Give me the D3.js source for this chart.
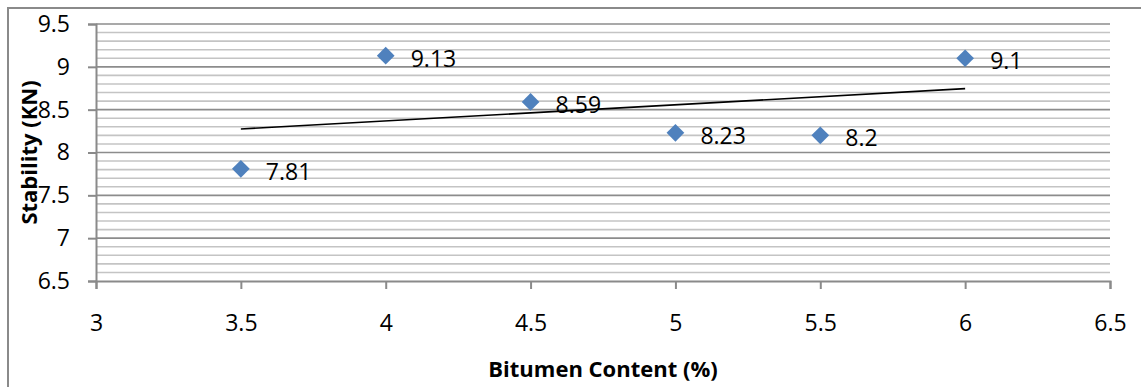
<!DOCTYPE html>
<html>
<head>
<meta charset="utf-8">
<script src="https://cdn.jsdelivr.net/npm/d3@7"></script>
<style>
  html, body { margin: 0; padding: 0; background: #fff; }
  svg { display: block; }
  text { font-family: "Open Sans", "Liberation Sans", sans-serif; fill: #000; }
</style>
</head>
<body>
<svg id="chart" width="1141" height="387"></svg>
<script>
// Marshall test results: stability against bitumen content
const bitumenContent = [3.5, 4, 4.5, 5, 5.5, 6];
const stability = [7.81, 9.13, 8.59, 8.23, 8.2, 9.1];
const xTicks = [3, 3.5, 4, 4.5, 5, 5.5, 6, 6.5];
const yTicks = [6.5, 7, 7.5, 8, 8.5, 9, 9.5];
const xTitle = "Bitumen Content (%)";
const yTitle = "Stability (KN)";

const svg = d3.select("#chart");
const plot = { left: 96, right: 1110, top: 24, bottom: 281 };
const labelSize = 23;

const x = d3.scaleLinear().domain([3, 6.5]).range([plot.left, plot.right]);
const y = d3.scaleLinear().domain([6.5, 9.5]).range([plot.bottom, plot.top]);

// chart area frame
svg.append("rect")
  .attr("x", 8).attr("y", 8)
  .attr("width", 1200).attr("height", 500)
  .attr("fill", "none").attr("stroke", "#8a8a8a").attr("stroke-width", 2);

// minor horizontal gridlines every 0.1
const minor = d3.range(65, 96).map(v => v / 10).filter(v => Math.round(v * 10) % 5 !== 0);
svg.append("g").selectAll("line").data(minor).join("line")
  .attr("x1", plot.left).attr("x2", plot.right)
  .attr("y1", d => y(d)).attr("y2", d => y(d))
  .attr("stroke", "#c4c4c4").attr("stroke-width", 1.6);

// major horizontal gridlines
svg.append("g").selectAll("line").data(yTicks.filter(v => v !== 6.5)).join("line")
  .attr("x1", plot.left).attr("x2", plot.right)
  .attr("y1", d => y(d)).attr("y2", d => y(d))
  .attr("stroke", "#8c8c8c").attr("stroke-width", 1.6);

// axes
const yAxis = svg.append("g")
  .attr("transform", `translate(${plot.left},0)`)
  .call(d3.axisLeft(y).tickValues(yTicks).tickSize(8).tickPadding(18).tickFormat(d3.format("")));
const xAxis = svg.append("g")
  .attr("transform", `translate(0,${plot.bottom})`)
  .call(d3.axisBottom(x).tickValues(xTicks).tickSize(8).tickPadding(26).tickFormat(d3.format("")));

[yAxis, xAxis].forEach(a => {
  a.select(".domain").attr("stroke", "#8a8a8a").attr("stroke-width", 2);
  a.selectAll(".tick line").attr("stroke", "#8a8a8a").attr("stroke-width", 2);
  a.selectAll(".tick text").attr("font-size", labelSize).attr("font-family", "\"Open Sans\", sans-serif").attr("fill", "#000");
});

// linear trendline (least squares)
const mx = d3.mean(bitumenContent), my = d3.mean(stability);
const slope = d3.sum(bitumenContent, (v, i) => (v - mx) * (stability[i] - my)) /
              d3.sum(bitumenContent, v => (v - mx) ** 2);
const intercept = my - slope * mx;
const xMin = d3.min(bitumenContent), xMax = d3.max(bitumenContent);
svg.append("line")
  .attr("x1", x(xMin)).attr("y1", y(intercept + slope * xMin))
  .attr("x2", x(xMax)).attr("y2", y(intercept + slope * xMax))
  .attr("stroke", "#000").attr("stroke-width", 1.6);

// data points
const pts = bitumenContent.map((v, i) => ({ x: v, y: stability[i] }));
svg.append("g").selectAll("path").data(pts).join("path")
  .attr("transform", d => `translate(${x(d.x)},${y(d.y)})`)
  .attr("d", d3.symbol(d3.symbolDiamond2, 200)())
  .attr("fill", "#4f81bd");

// value labels
svg.append("g").selectAll("text").data(pts).join("text")
  .attr("x", d => x(d.x) + 25)
  .attr("y", d => y(d.y) + 2)
  .attr("dominant-baseline", "central")
  .attr("font-size", labelSize)
  .text(d => d.y);

// axis titles
svg.append("text")
  .attr("x", (plot.left + plot.right) / 2).attr("y", 377)
  .attr("text-anchor", "middle")
  .attr("font-size", 22).attr("font-weight", "bold")
  .text(xTitle);
svg.append("text")
  .attr("transform", `translate(37,${(plot.top + plot.bottom) / 2}) rotate(-90)`)
  .attr("text-anchor", "middle")
  .attr("font-size", 22).attr("font-weight", "bold")
  .text(yTitle);
</script>
</body>
</html>
